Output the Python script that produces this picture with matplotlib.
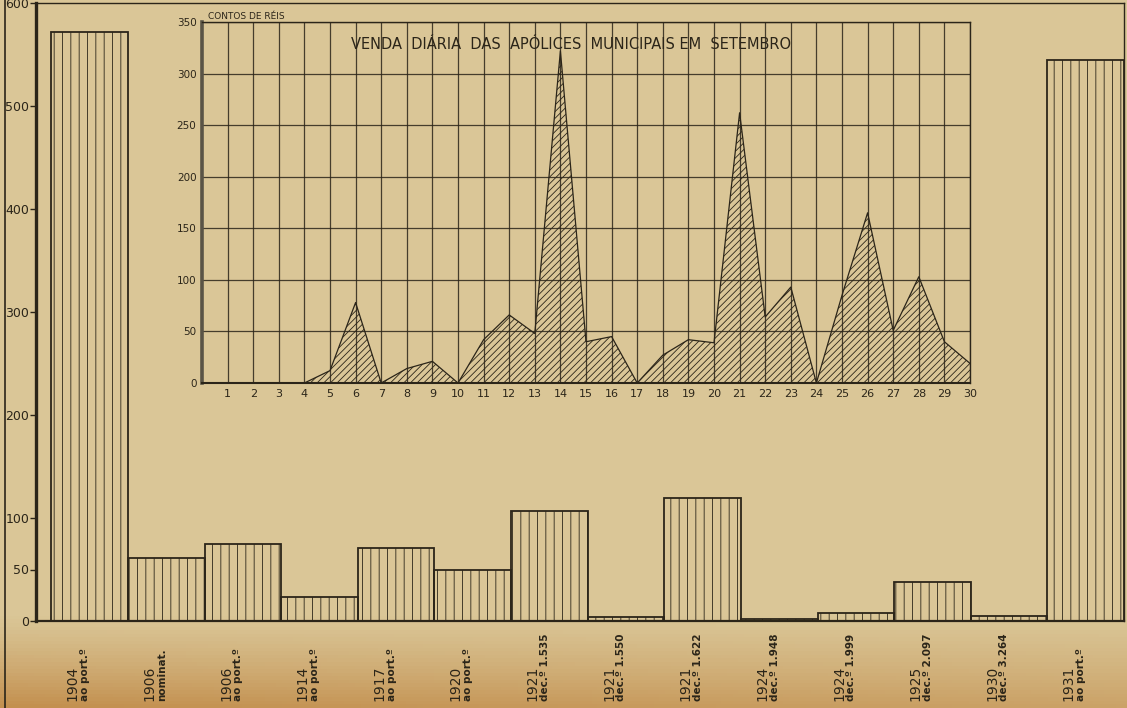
import numpy as np
import matplotlib
matplotlib.use("Agg")
import matplotlib.pyplot as plt

# --- dados: emissoes de apolices (contos de reis) ---
anos = ["1904", "1906", "1906", "1914", "1917", "1920", "1921", "1921",
        "1921", "1924", "1924", "1925", "1930", "1931"]
tipos = ["ao port.º", "nominat.", "ao port.º", "ao port.º", "ao port.º", "ao port.º",
         "dec.º 1.535", "dec.º 1.550", "dec.º 1.622", "dec.º 1.948", "dec.º 1.999",
         "dec.º 2.097", "dec.º 3.264", "ao port.º"]
valores = [572, 61, 75, 23, 71, 50, 107, 4, 119, 2, 8, 38, 5, 545]
yticks_main = [0, 50, 100, 200, 300, 400, 500, 600]

# --- venda diaria em setembro ---
dias = list(range(1, 31))
venda = [0, 0, 0, 0, 12, 78, 0, 14, 21, 0, 42, 66, 48, 322, 40,
         45, 0, 27, 42, 39, 262, 64, 93, 0, 85, 165, 51, 103, 40, 19]
yticks_ins = [0, 50, 100, 150, 200, 250, 300, 350]

W, H = 1127, 708
INK = "#2b2519"
PAPER = "#dac697"
plt.rcParams.update({"font.family": "DejaVu Sans", "hatch.linewidth": 0.6,
                     "hatch.color": INK})

fig = plt.figure(figsize=(W / 100, H / 100), dpi=100)
fig.patch.set_facecolor(PAPER)

# fundo com a faixa alaranjada em baixo
bg = fig.add_axes([0, 0, 1, 1], zorder=-10)
gy = np.linspace(0, 1, 200)[:, None]
gx = np.linspace(0, 1, 200)[None, :]
top = np.array(matplotlib.colors.to_rgb(PAPER))
bot = np.array(matplotlib.colors.to_rgb("#c3904f"))
w = np.clip((gy - 0.87) / 0.13, 0, 1) ** 1.2 * (1 - 0.35 * gx)
img = top * (1 - w[..., None]) + bot * w[..., None]
bg.imshow(img, aspect="auto", extent=[0, 1, 1, 0])
bg.plot([5 / W, 5 / W], [0, 1], color=INK, lw=1.2)
bg.set_xlim(0, 1); bg.set_ylim(1, 0); bg.axis("off")

# ---- grafico principal ----
ax = fig.add_axes([36 / W, 1 - 621 / H, (1124 - 36) / W, (621 - 3) / H])
ax.set_facecolor("none")
x = np.arange(len(valores))
ax.bar(x, valores, width=1.0, align="edge", facecolor="none", edgecolor=INK,
       lw=1.3, hatch="||")
ax.set_xlim(-0.2, len(valores))
ax.set_ylim(0, 600)
ax.set_yticks(yticks_main)
ax.set_yticklabels([str(v) for v in yticks_main], fontsize=9, color=INK)
ax.tick_params(axis="y", length=4, width=1, color=INK, pad=1)
ax.set_xticks([])
for s in ax.spines.values():
    s.set_color(INK)
ax.spines["left"].set_linewidth(2.4)
ax.spines["bottom"].set_linewidth(1.6)
ax.spines["top"].set_linewidth(1.0)
ax.spines["right"].set_linewidth(1.0)

tr = ax.get_xaxis_transform()
ybase = -(701 - 621) / 618
for i, (a, t) in enumerate(zip(anos, tipos)):
    ax.text(i + 0.28, ybase, a, rotation=90, ha="center", va="bottom",
            fontsize=10, color=INK, transform=tr, clip_on=False)
    ax.text(i + 0.44, ybase, t, rotation=90, ha="center", va="bottom",
            fontsize=7.5, fontweight="bold", color=INK, transform=tr,
            clip_on=False)

# ---- grafico inserido ----
ax2 = fig.add_axes([202 / W, 1 - 383 / H, (970 - 202) / W, (383 - 22) / H])
ax2.set_facecolor("none")
d = [0] + dias
v = [0] + venda
ax2.fill_between(d, v, 0, facecolor="none", edgecolor=INK, hatch="/////",
                 lw=0, zorder=3)
ax2.plot(d, v, color=INK, lw=0.9, zorder=4)
ax2.set_xlim(0, 30)
ax2.set_ylim(0, 350)
ax2.set_xticks(dias)
ax2.set_xticklabels([str(k) for k in dias], fontsize=8, color=INK)
ax2.set_yticks(yticks_ins)
ax2.set_yticklabels([str(k) for k in yticks_ins], fontsize=7.5, color=INK)
ax2.tick_params(length=0, pad=4)
ax2.grid(True, color=INK, lw=0.9, alpha=0.85, zorder=1)
ax2.set_axisbelow(True)
for s in ax2.spines.values():
    s.set_color(INK)
    s.set_linewidth(1.0)
ax2.spines["left"].set_linewidth(2.6)
ax2.spines["left"].set_color("#5a5446")
ax2.spines["bottom"].set_linewidth(1.5)
ax2.text(0.25, 351, "CONTOS DE RÉIS", fontsize=6.5, color=INK, va="bottom",
         ha="left")
ax2.text(14.4, 328, "VENDA  DIÁRIA  DAS  APÓLICES  MUNICIPAIS EM  SETEMBRO",
         fontsize=10.5, color=INK, ha="center", va="center", zorder=5)

fig.savefig("out.png", dpi=100, facecolor=fig.get_facecolor())
